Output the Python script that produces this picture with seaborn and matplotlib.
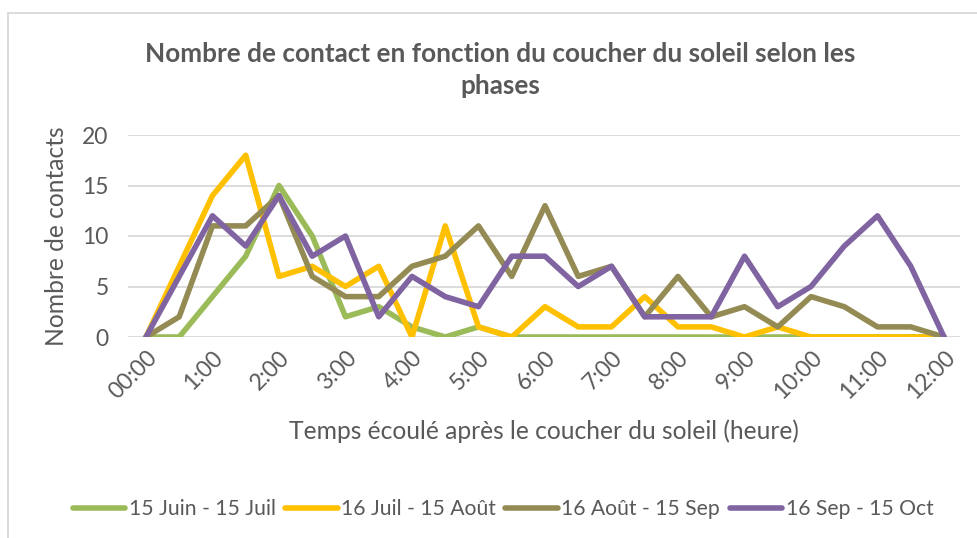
import numpy as np
import pandas as pd
import matplotlib
matplotlib.use("Agg")
import matplotlib.pyplot as plt
import seaborn as sns
from matplotlib.patches import Rectangle

# data: one point every 30 minutes from 00:00 to 12:00
steps = list(range(25))
tick_labels = ["00:00", "1:00", "2:00", "3:00", "4:00", "5:00", "6:00",
               "7:00", "8:00", "9:00", "10:00", "11:00", "12:00"]
series_names = ["15 Juin - 15 Juil", "16 Juil - 15 Août",
                "16 Août - 15 Sep", "16 Sep - 15 Oct"]
juin_juil = [0, 0, 4, 8, 15, 10, 2, 3, 1, 0, 1, 0, 0, 0, 0, 0, 0, 0, 0, 0, 0, 0, 0, 0, 0]
juil_aout = [0, 7, 14, 18, 6, 7, 5, 7, 0, 11, 1, 0, 3, 1, 1, 4, 1, 1, 0, 1, 0, 0, 0, 0, 0]
aout_sep = [0, 2, 11, 11, 14, 6, 4, 4, 7, 8, 11, 6, 13, 6, 7, 2, 6, 2, 3, 1, 4, 3, 1, 1, 0]
sep_oct = [0, 6, 12, 9, 14, 8, 10, 2, 6, 4, 3, 8, 8, 5, 7, 2, 2, 2, 8, 3, 5, 9, 12, 7, 0]
colors = ["#9BBB59", "#FFC000", "#948A54", "#8064A2"]

df = pd.DataFrame({
    "step": steps * 4,
    "contacts": juin_juil + juil_aout + aout_sep + sep_oct,
    "phase": np.repeat(series_names, len(steps)),
})

sns.set_style("white")
plt.rcParams["font.family"] = ["Lato", "DejaVu Sans"]
grey = "#595959"

fig = plt.figure(figsize=(9.78, 5.38), dpi=100)
ax = fig.add_axes([128 / 978, 1 - 337 / 538, (960 - 128) / 978, (337 - 135) / 538])

# chart frame like the spreadsheet border
fig.patches.append(Rectangle((8 / 978, -0.1), 1.2, 1 - 13 / 538 + 0.1,
                             transform=fig.transFigure, fill=False,
                             edgecolor="#d9d9d9", linewidth=1.3))

sns.lineplot(data=df, x="step", y="contacts", hue="phase", palette=colors,
             linewidth=4, ax=ax, legend=False, zorder=3)
for line in ax.lines:
    line.set_solid_joinstyle("round")
    line.set_solid_capstyle("round")

ax.set_xlim(-0.54, 24.48)
ax.set_ylim(0, 20)
ax.set_yticks([0, 5, 10, 15, 20])
ax.set_xticks(steps[::2])
ax.set_xticklabels(tick_labels, rotation=45, ha="right", va="top",
                   rotation_mode="anchor")
ax.tick_params(axis="both", length=0, colors=grey, labelsize=16.5)
ax.tick_params(axis="x", pad=7)
ax.tick_params(axis="y", pad=14)
ax.grid(axis="y", color="#d9d9d9", linewidth=1.3, zorder=0)
ax.set_axisbelow(True)
for s in ax.spines.values():
    s.set_visible(False)

ax.set_xlabel("Temps écoulé après le coucher du soleil (heure)", fontsize=17.7,
              color=grey, labelpad=12)
ax.set_ylabel("Nombre de contacts", fontsize=17.7, color=grey, labelpad=10)

fig.text(500 / 978, 1 - 70 / 538,
         "Nombre de contact en fonction du coucher du soleil selon les\nphases",
         ha="center", va="center", fontsize=18.8, fontweight="bold", color=grey,
         linespacing=1.45)

handles = [plt.Line2D([], [], color=c, linewidth=4) for c in colors]
fig.legend(handles, series_names, loc="center", bbox_to_anchor=(503 / 978, 1 - 509 / 538),
           ncol=4, frameon=False, fontsize=15.2, labelcolor=grey, handlelength=2.5,
           handletextpad=0.15, columnspacing=0.45)

fig.savefig("out.png", dpi=100)
